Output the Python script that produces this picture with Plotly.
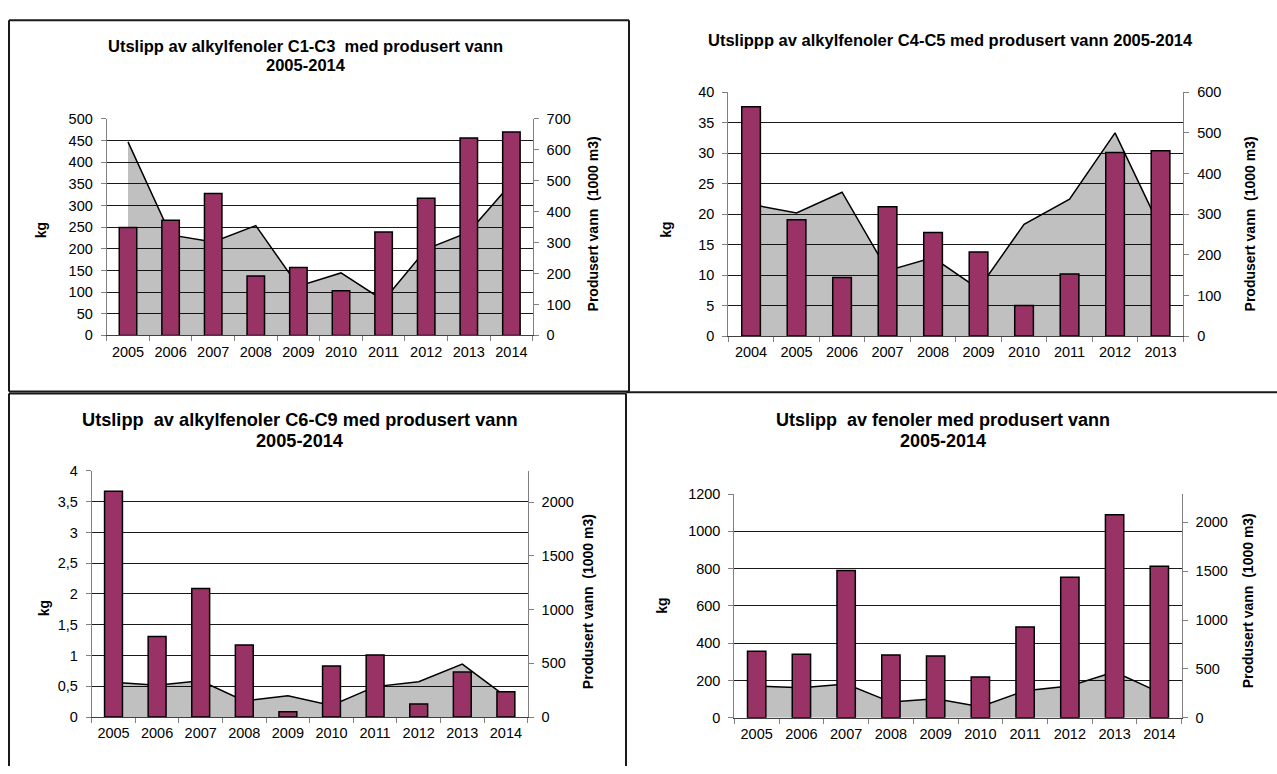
import plotly.graph_objects as go

# ---- data -------------------------------------------------------------
years_2005 = ["2005", "2006", "2007", "2008", "2009", "2010", "2011", "2012", "2013", "2014"]
years_2004 = ["2004", "2005", "2006", "2007", "2008", "2009", "2010", "2011", "2012", "2013"]

# Alkylfenoler C1-C3
kg_c1c3 = [249, 266, 328, 137, 157, 103, 239, 317, 456, 470]
vann_c1c3 = [626, 325, 302, 355, 159, 202, 113, 279, 334, 492]

# Alkylfenoler C4-C5
kg_c4c5 = [37.6, 19.1, 9.6, 21.2, 17.0, 13.8, 5.0, 10.2, 30.1, 30.4]
vann_c4c5 = [324, 303, 354, 161, 193, 116, 275, 337, 500, 265]

# Alkylfenoler C6-C9
kg_c6c9 = [3.67, 1.31, 2.09, 1.17, 0.085, 0.83, 1.01, 0.21, 0.73, 0.41]
vann_c6c9 = [323, 295, 338, 149, 198, 107, 283, 329, 493, 189]

# Fenoler
kg_fenol = [357, 340, 790, 336, 331, 219, 487, 753, 1089, 813]
vann_fenol = [324, 307, 344, 160, 194, 113, 277, 324, 471, 260]

# axis ticks
kg_ticks_c1c3 = [0, 50, 100, 150, 200, 250, 300, 350, 400, 450, 500]
kg_ticks_c4c5 = [0, 5, 10, 15, 20, 25, 30, 35, 40]
kg_ticks_c6c9 = [0, 0.5, 1, 1.5, 2, 2.5, 3, 3.5, 4]
kg_labels_c6c9 = ["0", "0,5", "1", "1,5", "2", "2,5", "3", "3,5", "4"]
kg_ticks_fenol = [0, 200, 400, 600, 800, 1000, 1200]
vann_ticks_700 = [0, 100, 200, 300, 400, 500, 600, 700]
vann_ticks_600 = [0, 100, 200, 300, 400, 500, 600]
vann_ticks_2000 = [0, 500, 1000, 1500, 2000]

titles = [
    ["Utslipp av alkylfenoler C1-C3 \u00a0med produsert vann", "2005-2014"],
    ["Utslippp av alkylfenoler C4-C5 med produsert vann 2005-2014"],
    ["Utslipp \u00a0av alkylfenoler C6-C9 med produsert vann", "2005-2014"],
    ["Utslipp \u00a0av fenoler med produsert vann", "2005-2014"],
]
kg_title = "kg"
vann_title = "Produsert vann \u00a0(1000 m3)"

# ---- layout helpers ---------------------------------------------------
W, H = 1277, 774
FONT = "Liberation Sans, Arial, sans-serif"
BAR = "#993366"
GRID = "#1a1a1a"
AXIS = "#808080"


def px(x):
    return x / W


def py(y):
    return 1 - y / H


fig = go.Figure()
layout = dict(
    width=W, height=H,
    margin=dict(l=0, r=0, t=0, b=0),
    paper_bgcolor="white", plot_bgcolor="white",
    showlegend=False, bargap=0.59,
    font=dict(family=FONT, size=14.5, color="black"),
    annotations=[], shapes=[],
)


def add_panel(k, cats, kg, vann, xdom, ydom, kg_range, kg_ticks, kg_text,
              vann_range, vann_ticks, title_lines, title_x, title_ys, title_size,
              kg_pos, vann_pos):
    xname = "x" if k == 1 else f"x{k}"
    yw = 2 * k - 1
    yk = 2 * k
    ywname = "y" if yw == 1 else f"y{yw}"
    ykname = f"y{yk}"
    xkey = "xaxis" if k == 1 else f"xaxis{k}"
    ywkey = "yaxis" if yw == 1 else f"yaxis{yw}"
    ykkey = f"yaxis{yk}"

    # produced water (grey area) on the base axis so it sits behind the bars
    fig.add_trace(go.Scatter(
        x=cats, y=vann, xaxis=xname, yaxis=ywname, mode="lines",
        fill="tozeroy", fillcolor="rgba(0,0,0,0.247)",
        line=dict(color="black", width=1.5), hoverinfo="skip",
    ))
    fig.add_trace(go.Bar(
        x=cats, y=kg, xaxis=xname, yaxis=ykname,
        marker=dict(color=BAR, line=dict(color="black", width=1.5)),
    ))

    layout[xkey] = dict(
        domain=[px(xdom[0]), px(xdom[1])], anchor=ywname,
        type="category", categoryorder="array", categoryarray=cats,
        range=[-0.5, len(cats) - 0.5], tickson="boundaries",
        ticks="outside", ticklen=5, tickcolor=AXIS,
        showline=True, linecolor="#404040", linewidth=1,
        showgrid=False, zeroline=False, fixedrange=True,
        tickfont=dict(size=14.5), ticklabelstandoff=3,
    )
    layout[ywkey] = dict(
        domain=[py(ydom[1]), py(ydom[0])], anchor=xname, side="right",
        range=vann_range, tickmode="array", tickvals=vann_ticks,
        ticktext=[str(v) for v in vann_ticks],
        ticks="outside", ticklen=5, tickcolor=AXIS,
        showline=True, linecolor=AXIS, linewidth=1,
        showgrid=False, zeroline=False, fixedrange=True,
        tickfont=dict(size=14.5), ticklabelstandoff=5,
    )
    layout[ykkey] = dict(
        overlaying=ywname, anchor=xname, side="left",
        range=kg_range, tickmode="array", tickvals=kg_ticks,
        ticktext=kg_text if kg_text else [str(v) for v in kg_ticks],
        ticks="outside", ticklen=5, tickcolor=AXIS,
        showline=True, linecolor=AXIS, linewidth=1,
        showgrid=True, gridcolor=GRID, gridwidth=1,
        zeroline=False, fixedrange=True,
        tickfont=dict(size=14.5), ticklabelstandoff=5,
    )

    for line, ty in zip(title_lines, title_ys):
        layout["annotations"].append(dict(
            text=f"<b>{line}</b>", x=px(title_x), y=py(ty),
            xref="paper", yref="paper", xanchor="center", yanchor="middle",
            showarrow=False, font=dict(size=title_size),
        ))
    layout["annotations"].append(dict(
        text=f"<b>{kg_title}</b>", x=px(kg_pos[0]), y=py(kg_pos[1]),
        xref="paper", yref="paper", xanchor="center", yanchor="middle",
        textangle=-90, showarrow=False, font=dict(size=14),
    ))
    layout["annotations"].append(dict(
        text=f"<b>{vann_title}</b>", x=px(vann_pos[0]), y=py(vann_pos[1]),
        xref="paper", yref="paper", xanchor="center", yanchor="middle",
        textangle=-90, showarrow=False, font=dict(size=14),
    ))


add_panel(1, years_2005, kg_c1c3, vann_c1c3,
          (106.7, 532.7), (113.3, 334.3), [0, 500], kg_ticks_c1c3, None,
          [0, 700], vann_ticks_700, titles[0], 305.5, (38.3, 58.3), 16.5,
          (41, 227), (593, 221))
add_panel(2, years_2004, kg_c4c5, vann_c4c5,
          (728.3, 1183.3), (86, 335), [0, 40], kg_ticks_c4c5, None,
          [0, 600], vann_ticks_600, titles[1], 950, (32.3,), 16.5,
          (666.5, 227), (1250, 221))
add_panel(3, years_2005, kg_c6c9, vann_c6c9,
          (91.7, 527.7), (472.7, 724), [0, 4], kg_ticks_c6c9, kg_labels_c6c9,
          [0, 2290], vann_ticks_2000, titles[2], 300, (420.7, 441.7), 18.2,
          (44, 613), (588, 606.7))
add_panel(4, years_2005, kg_fenol, vann_fenol,
          (734.3, 1181.7), (496.3, 724.7), [0, 1200], kg_ticks_fenol, None,
          [0, 2290], vann_ticks_2000, titles[3], 943, (420.7, 441.7), 18,
          (662.4, 610), (1248, 605.8))

# frame lines around the chart boxes
BORDER = dict(color="#1a1a1a", width=2)


def frame_line(x0, y0, x1, y1):
    layout["shapes"].append(dict(
        type="line", xref="paper", yref="paper",
        x0=px(x0), y0=py(y0), x1=px(x1), y1=py(y1), line=BORDER,
    ))


frame_line(9, 12.5, 629, 12.5)
frame_line(9, 12.5, 9, 391.5)
frame_line(629, 12.5, 629, 391.5)
frame_line(9, 391.5, 629, 391.5)
frame_line(9, 393.7, 626, 393.7)
frame_line(9, 393.7, 9, 774)
frame_line(626, 393.7, 626, 774)
frame_line(626, 392.3, 1277, 392.3)

fig.update_layout(**layout)
fig.write_html("out.html")
